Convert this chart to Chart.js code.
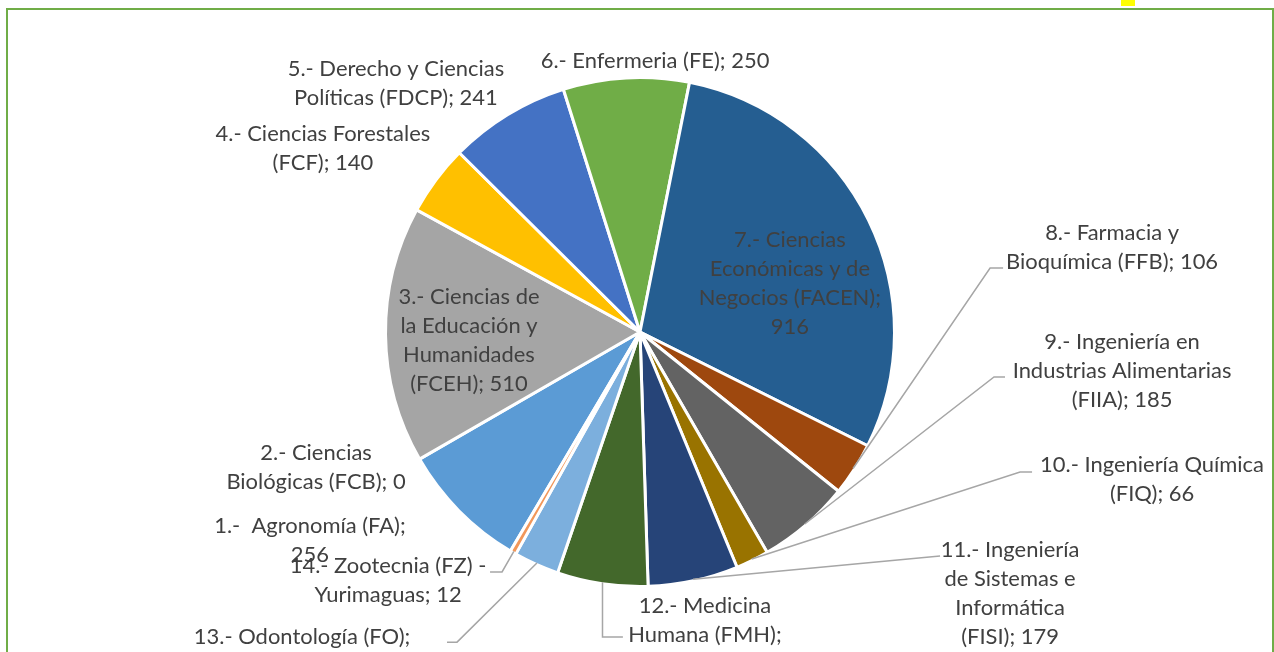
<!DOCTYPE html>
<html>
<head>
<meta charset="utf-8">
<title>Pie</title>
<script src="https://cdn.jsdelivr.net/npm/chart.js@4.4.1/dist/chart.umd.min.js"></script>
<style>
  html, body { margin: 0; padding: 0; background: #fff; overflow: hidden; }
  #wrap { position: relative; width: 1274px; height: 652px; }
  #frame { position: absolute; left: 6px; top: 8px; width: 1268px; height: 800px; box-sizing: border-box; border: 2px solid #70AD47; }
  #mark { position: absolute; left: 1121px; top: 0; width: 14px; height: 6px; background: #FFFF00; }
  #c { position: absolute; left: 0; top: 0; }
</style>
</head>
<body>
<div id="wrap">
  <div id="frame"></div>
  <div id="mark"></div>
  <canvas id="c" width="1274" height="652"></canvas>
</div>
<script>
// categories ("\n" = line break used in the label)
var categories = [
  "1.-  Agronomía (FA)",
  "2.- Ciencias\nBiológicas (FCB)",
  "3.- Ciencias de\nla Educación y\nHumanidades\n(FCEH)",
  "4.- Ciencias Forestales\n(FCF)",
  "5.- Derecho y Ciencias\nPolíticas (FDCP)",
  "6.- Enfermeria (FE)",
  "7.- Ciencias\nEconómicas y de\nNegocios (FACEN)",
  "8.- Farmacia y\nBioquímica (FFB)",
  "9.- Ingeniería en\nIndustrias Alimentarias\n(FIIA)",
  "10.- Ingeniería Química\n(FIQ)",
  "11.- Ingeniería\nde Sistemas e\nInformática\n(FISI)",
  "12.- Medicina\nHumana (FMH)",
  "13.- Odontología (FO)",
  "14.- Zootecnia (FZ) -\nYurimaguas"
];
var values = [256, 0, 510, 140, 241, 250, 916, 106, 185, 66, 179, 180, 90, 12];
var colors = ["#5B9BD5", "#ED7D31", "#A5A5A5", "#FFC000", "#4472C4", "#70AD47", "#255E91",
              "#9E480E", "#636363", "#997300", "#264478", "#43682B", "#7CAFDD", "#F1975A"];
// separator between name and value
var valueSep = [";\n", "; ", "; ", "; ", "; ", "; ", ";\n", "; ", "; ", "; ", "; ", ";\n", ";\n", "; "];

// label centres, in units of the pie radius from the pie centre
var labelPos = [
  [-1.297, 0.817], [-1.273, 0.530], [-0.672, 0.031], [-1.246, -0.723], [-0.959, -0.982],
  [0.059, -1.069], [0.589, -0.196], [1.855, -0.334], [1.894, 0.149], [2.012, 0.574],
  [1.454, 1.022], [0.255, 1.187], [-1.328, 1.250], [-0.990, 0.974]
];
// leader lines: attach point offset from the label centre, then elbow
var leaders = [null, null, null, null, null, null, null,
  { ax: -109, ay: 21, ex: -13 },
  { ax: -117, ay: 7, ex: -11 },
  { ax: -120, ay: -6, ex: -12 },
  { ax: -70, ay: -36, ex: 0 },
  { ax: -82, ay: 3, vert: true },
  { ax: 145, ay: -8, ex: 10 },
  { ax: 102, ay: -8, ex: 12 }
];

var FONT = "Lato, 'Open Sans', sans-serif";
var LINE_H = 29;

var sliceLabels = {
  id: "sliceLabels",
  afterDatasetsDraw: function(chart) {
    var ctx = chart.ctx;
    var arcs = chart.getDatasetMeta(0).data;
    ctx.save();
    ctx.font = "20px " + FONT;
    var size = 20 * 224 / ctx.measureText("10.- Ingeniería Química").width;
    ctx.font = size.toFixed(2) + "px " + FONT;
    ctx.textAlign = "center";
    ctx.textBaseline = "alphabetic";

    arcs.forEach(function(arc, i) {
      var p = arc.getProps(["x", "y", "startAngle", "endAngle", "outerRadius"], true);
      var r = p.outerRadius;
      var cx = p.x + labelPos[i][0] * r;
      var cy = p.y + labelPos[i][1] * r;
      var lines = (categories[i] + valueSep[i] + values[i]).split("\n");

      var ld = leaders[i];
      if (ld) {
        var mid = (p.startAngle + p.endAngle) / 2;
        var px = p.x + Math.cos(mid) * (r - 1.5);
        var py = p.y + Math.sin(mid) * (r - 1.5);
        var axp = cx + ld.ax, ayp = cy + ld.ay;
        var exp = ld.vert ? px : axp + ld.ex;
        ctx.strokeStyle = "#A6A6A6";
        ctx.lineWidth = 1.5;
        ctx.beginPath();
        ctx.moveTo(axp, ayp);
        ctx.lineTo(exp, ayp);
        ctx.lineTo(px, py);
        ctx.stroke();
      }

      ctx.fillStyle = "#404040";
      var n = lines.length;
      lines.forEach(function(t, k) {
        ctx.fillText(t, cx, cy + (k - (n - 1) / 2) * LINE_H + 8);
      });
    });
    ctx.restore();
  }
};

new Chart(document.getElementById("c").getContext("2d"), {
  type: "pie",
  data: {
    labels: categories,
    datasets: [{
      data: values,
      backgroundColor: colors,
      borderColor: "#ffffff",
      borderWidth: 3,
      hoverOffset: 0
    }]
  },
  options: {
    responsive: false,
    animation: false,
    rotation: 210.6,
    radius: 254.5,
    layout: { padding: { top: 12, bottom: 0, left: 6, right: 0 } },
    plugins: {
      legend: { display: false },
      tooltip: { enabled: false },
      title: { display: false }
    }
  },
  plugins: [sliceLabels]
});
</script>
</body>
</html>
